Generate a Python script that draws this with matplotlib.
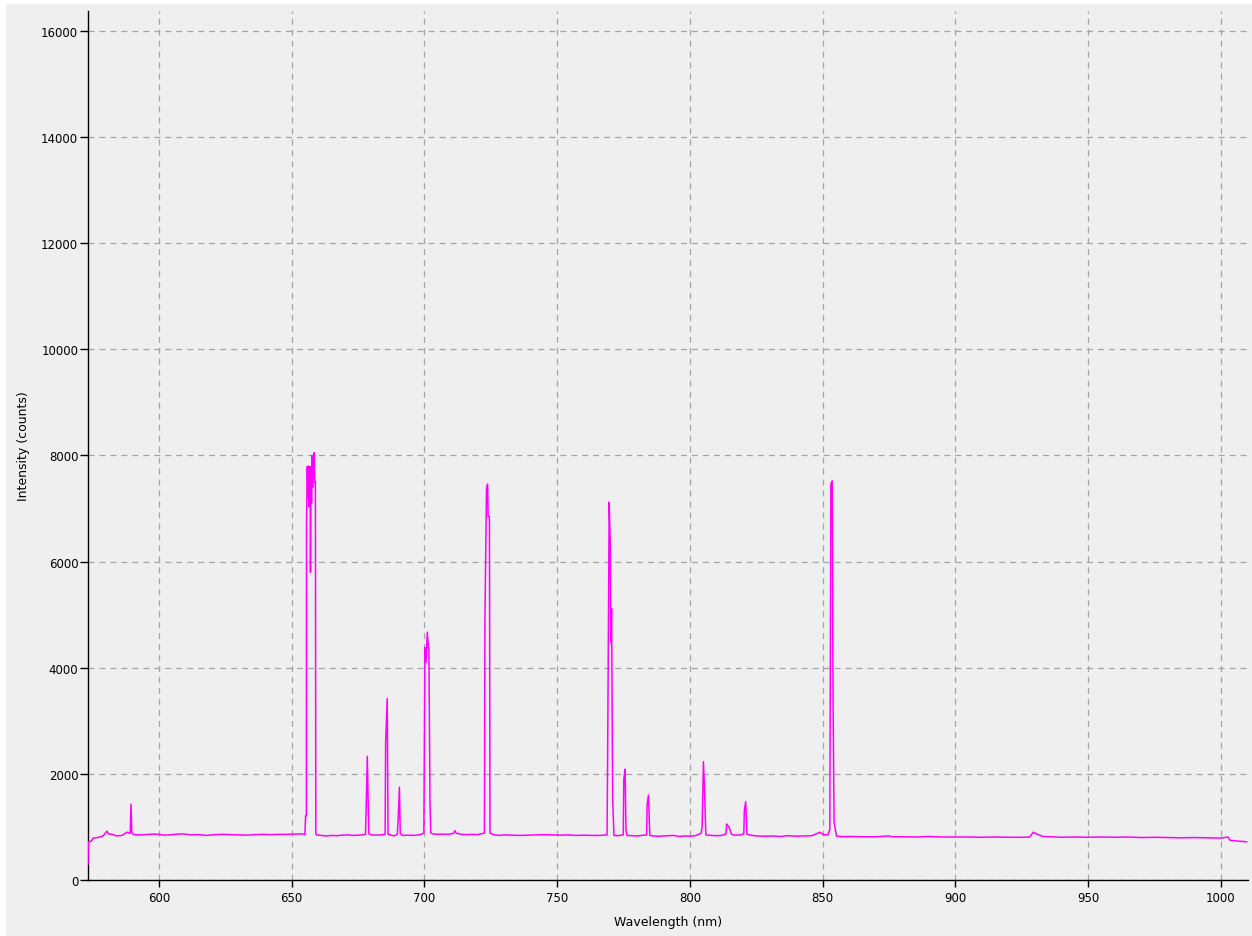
import matplotlib.pyplot as plt
from matplotlib.patches import Rectangle

# spectrum samples: wavelength (nm) and intensity (counts)
wavelength = [
    573.3, 573.4, 574.5, 575.2, 577, 579, 580.4, 581, 582.5, 584, 586, 588, 589.2, 589.5, 589.8,
    590.3, 592, 595, 598, 600, 602, 604, 606, 609, 612, 615, 618, 621, 624, 627, 630, 633, 636,
    639, 642, 645, 648, 651, 654,
    # H-alpha cluster
    655.0, 655.25, 655.55, 655.6, 655.9, 656.1, 656.3, 656.5, 656.7, 657.0, 657.1, 657.3, 657.5,
    657.6, 657.9, 658.1, 658.3, 658.5, 658.7, 658.95, 659.1, 659.3,
    661, 663, 665, 667, 669, 671, 673, 675, 677, 677.8, 678.0, 678.5, 678.8, 679.1, 680, 682, 684,
    685.2, 685.4, 686.0, 686.3, 687, 688.5, 689.8, 690.1, 690.6, 690.9, 692, 694, 696, 698,
    699.8, 700.2, 700.6, 701.1, 701.5, 701.7, 702.1, 702.4, 703, 705, 707, 709, 711, 711.5, 712,
    714, 716, 718, 720, 722.6, 722.8, 723.4, 723.8, 724.0, 724.5, 724.7, 726, 728, 730, 733, 736,
    739, 742, 745, 748, 751, 754, 757, 760, 763, 766, 768.8, 769.0, 769.6, 770.0, 770.2, 770.5,
    770.9, 771.4, 773, 774.9, 775.1, 775.6, 775.9, 776.3, 778, 780, 782, 783.7, 783.9, 784.4,
    784.9, 786, 788, 790, 792, 794, 796, 798, 800, 802, 804.2, 804.6, 805.1, 805.5, 806.0, 808,
    810, 812, 813.6, 813.8, 814.7, 815.7, 817, 819, 820.3, 820.5, 821.0, 821.5, 823, 825, 828,
    831, 834, 837, 840, 843, 846, 849, 850, 852, 852.7, 853.1, 853.6, 853.9, 854.3, 855.2, 857,
    860, 865, 870, 875, 876, 880, 885, 890, 895, 900, 905, 910, 915, 920, 925, 928, 929.3, 931,
    933, 936, 940, 945, 950, 955, 960, 965, 970, 975, 980, 985, 990, 995, 1000, 1002.7, 1003.4,
    1006, 1009.7,
]
intensity = [
    300, 720, 730, 790, 800, 830, 920, 870, 860, 830, 840, 900, 880, 1430, 900,
    860, 850, 855, 865, 860, 845, 850, 860, 870, 850, 855, 840, 855, 860, 855, 850, 845, 855,
    860, 855, 860, 860, 865, 870,
    855, 1210, 1210, 6680, 7790, 7200, 7800, 7030, 7790, 7300, 5800, 7790, 7100,
    8000, 7400, 7950, 7600, 8050, 7500, 7500, 880, 850,
    840, 830, 840, 835, 845, 850, 840, 845, 850, 860, 1225, 2330, 1510, 870, 850, 845, 855,
    860, 2600, 3420, 860, 850, 830, 860, 1130, 1750, 870, 840, 845, 840, 850,
    880, 4380, 4100, 4670, 4380, 4370, 1470, 890, 870, 860, 865, 860, 880, 930, 880,
    860, 855, 860, 855, 885, 4930, 7370, 7460, 6850, 6850, 885, 855, 840, 850, 845, 840,
    845, 850, 855, 850, 845, 850, 840, 845, 840, 840, 850, 2230, 7120, 6350, 4480, 5110,
    1540, 840, 835, 850, 1900, 2090, 960, 840, 835, 830, 840, 850, 1430, 1600,
    840, 830, 825, 830, 835, 840, 820, 830, 825, 835, 880, 990, 2230, 1710, 850, 840,
    835, 840, 870, 1055, 1000, 860, 845, 850, 870, 1305, 1475, 860, 845, 830, 825,
    830, 820, 835, 825, 830, 835, 900, 860, 850, 960, 7460, 7520, 3490, 1090, 830, 815,
    820, 815, 815, 830, 815, 815, 810, 820, 810, 810, 810, 805, 810, 805, 805, 810, 900, 860,
    820, 815, 805, 810, 805, 810, 805, 810, 800, 805, 800, 795, 800, 795, 790, 810, 750,
    735, 720,
]

x_ticks = [600, 650, 700, 750, 800, 850, 900, 950, 1000]
y_ticks = [0, 2000, 4000, 6000, 8000, 10000, 12000, 14000, 16000]

bg = '#efefef'
plt.rcParams['font.family'] = 'DejaVu Sans'
plt.rcParams['lines.scale_dashes'] = False

fig = plt.figure(figsize=(12.52, 9.37), dpi=100, facecolor='white')
# grey panel with a thin white margin on the top and left
fig.patches.append(Rectangle((6 / 1252, 0), 1, 932 / 937, transform=fig.transFigure,
                             facecolor=bg, edgecolor='none', zorder=-10))

ax = fig.add_axes([88 / 1252, 56 / 937, 1160 / 1252, 869 / 937])
ax.set_facecolor(bg)

ax.plot(wavelength, intensity, color='#ff00ff', linewidth=1.1, zorder=3)

ax.set_xlim(573.3, 1010.2)
ax.set_ylim(0, 16375)
ax.set_xticks(x_ticks)
ax.set_yticks(y_ticks)

ax.grid(True, color='#a4a4a4', linestyle=(0, (4.3, 3.6)), linewidth=0.9, zorder=1)
ax.set_axisbelow(True)

for side in ['top', 'right']:
    ax.spines[side].set_visible(False)
for side in ['left', 'bottom']:
    ax.spines[side].set_color('black')
    ax.spines[side].set_linewidth(1.0)

ax.tick_params(axis='y', length=5.8, width=1.0, pad=1.2, labelsize=8.5)
ax.tick_params(axis='x', length=5.0, width=1.0, pad=3.2, labelsize=8.5)

ax.set_xlabel('Wavelength (nm)', fontsize=9, labelpad=8)
ax.set_ylabel('Intensity (counts)', fontsize=9, labelpad=8)

fig.savefig('out.png', dpi=100, facecolor='white')
